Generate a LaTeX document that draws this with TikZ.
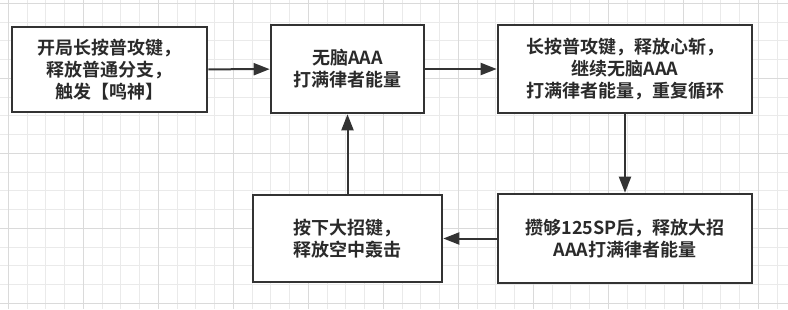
\documentclass[tikz,border=0pt]{standalone}
\usepackage{fontspec}
\setmainfont{Noto Sans CJK SC}[BoldFont={* Bold}]
\usetikzlibrary{arrows.meta}
\definecolor{ink}{HTML}{333333}
\definecolor{txt}{HTML}{2A2A2A}
\definecolor{gridminor}{HTML}{EAEAEA}
\definecolor{gridmajor}{HTML}{DADADA}
\tikzset{
  box/.style={draw=ink, line width=2.6pt, fill=white, text=txt, align=center,
    font=\fontsize{18}{22}\selectfont\bfseries, inner sep=0pt},
  conn/.style={draw=ink, line width=2pt, -{Triangle[length=16pt,width=12pt]}},
}
\begin{document}
\begin{tikzpicture}[x=1pt,y=-1pt]
\useasboundingbox (0,0) rectangle (788,309);
\fill[white] (0,0) rectangle (788,309);
% grid
\foreach \i in {0,...,42} {
  \pgfmathsetmacro\xx{8.2+18.75*\i}
  \draw[gridminor, line width=0.8pt] (\xx,0) -- (\xx,309);
}
\foreach \i in {0,...,16} {
  \pgfmathsetmacro\yy{3.3+18.75*\i}
  \draw[gridminor, line width=0.8pt] (0,\yy) -- (788,\yy);
}
\foreach \i in {0,...,10} {
  \pgfmathsetmacro\xx{8.2+75*\i}
  \draw[gridmajor, line width=0.9pt] (\xx,0) -- (\xx,309);
}
\foreach \i in {0,...,4} {
  \pgfmathsetmacro\yy{3.3+75*\i}
  \draw[gridmajor, line width=0.9pt] (0,\yy) -- (788,\yy);
}
% boxes
\node[box, minimum width=195pt, minimum height=85pt] (a) at (109.5,69.5) {开局长按普攻键，\\释放普通分支，\\触发【鸣神】};
\node[box, minimum width=153pt, minimum height=88pt] (b) at (347.5,69) {无脑AAA\\打满律者能量};
\node[box, minimum width=254pt, minimum height=88pt] (c) at (625,69) {长按普攻键，释放心斩，\\继续无脑AAA\\打满律者能量，重复循环};
\node[box, minimum width=189pt, minimum height=87pt] (d) at (347.5,238.5) {按下大招键，\\释放空中轰击};
\node[box, minimum width=254pt, minimum height=89pt] (e) at (625,238.5) {攒够125SP后，释放大招\\AAA打满律者能量};
% connectors
\draw[conn] (a) -- (b);
\draw[conn] (b) -- (c);
\draw[conn] (c) -- (e);
\draw[conn] (e) -- (d);
\draw[conn] (d) -- (b);
\end{tikzpicture}
\end{document}
